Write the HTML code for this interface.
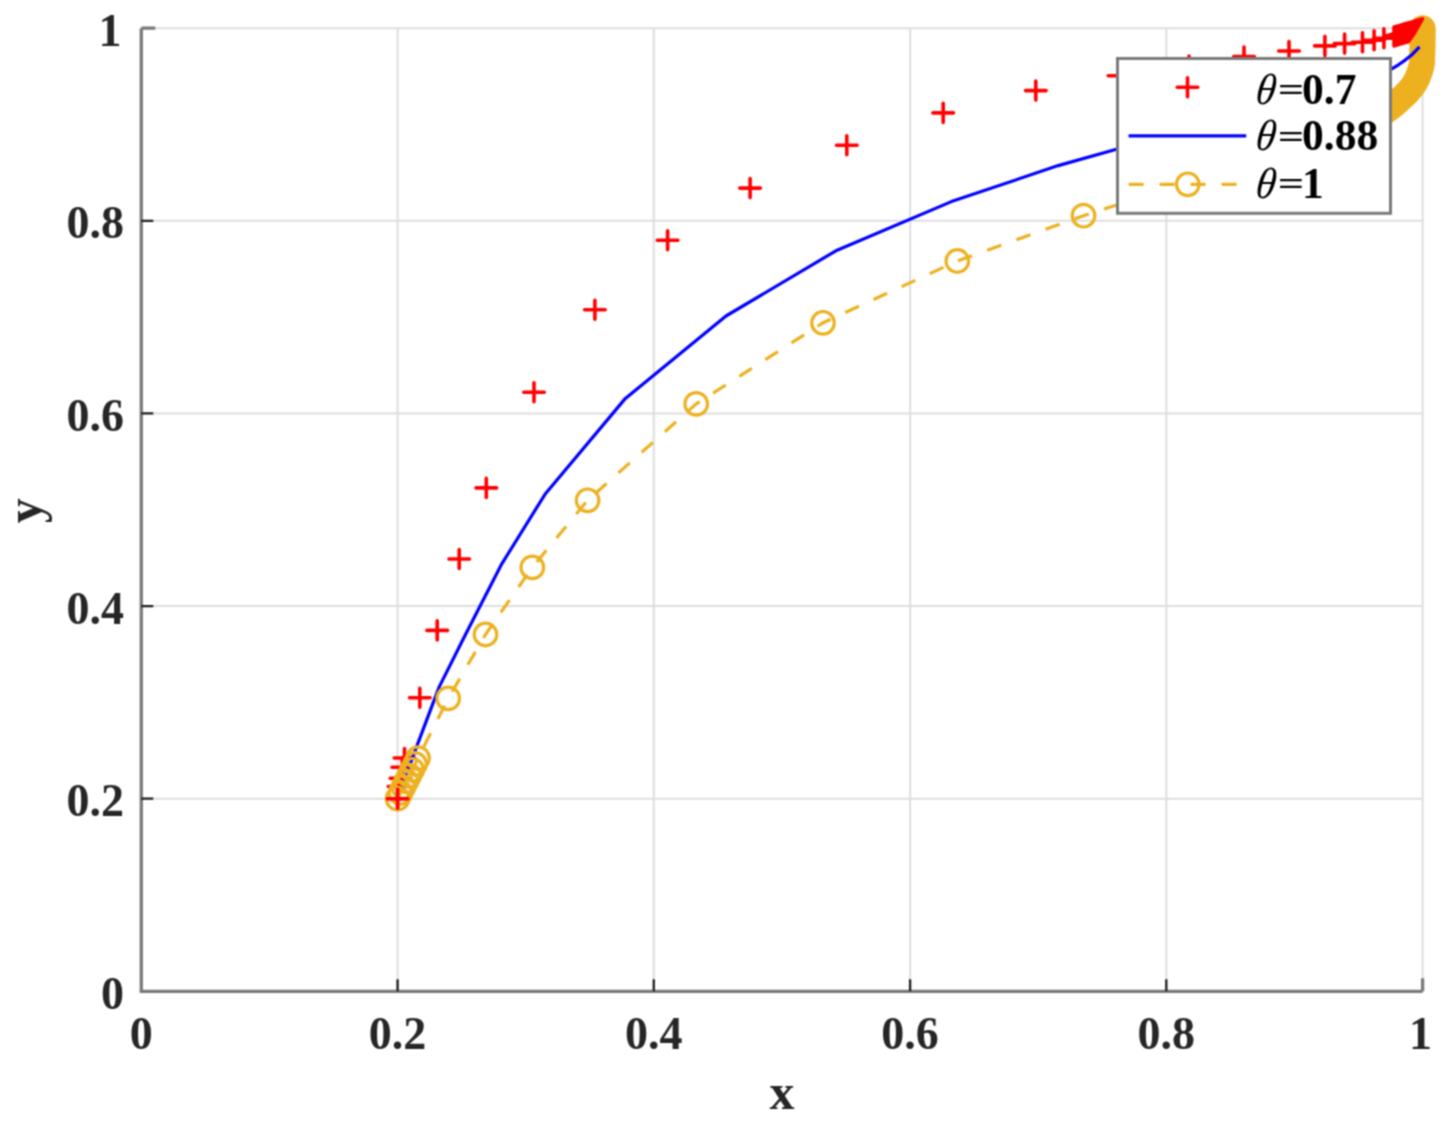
<!DOCTYPE html>
<html><head><meta charset="utf-8"><title>plot</title>
<style>html,body{margin:0;padding:0;background:#fff;overflow:hidden}svg{display:block}</style>
</head><body>
<svg width="1452" height="1127" viewBox="0 0 1452 1127">
<defs><filter id="soft" x="0" y="0" width="1452" height="1127" filterUnits="userSpaceOnUse" color-interpolation-filters="sRGB"><feConvolveMatrix order="3" kernelMatrix="1 2 1 2 4 2 1 2 1" divisor="16" edgeMode="duplicate"/></filter></defs>
<g filter="url(#soft)">
<rect width="1452" height="1127" fill="#fff"/>
<path d="M397.6 28.2V991.3M141.3 798.7H1422.6M653.8 28.2V991.3M141.3 606.1H1422.6M910.1 28.2V991.3M141.3 413.4H1422.6M1166.3 28.2V991.3M141.3 220.8H1422.6M1422.6 28.2V991.3M141.3 28.2H1422.6" stroke="#dedede" stroke-width="2" fill="none"/>
<path d="M387.3 798.7H407.9M397.6 789.2V808.2M388.3 786.5H408.9M398.6 777.0V796.0M390.2 778.3H410.8M400.5 768.8V787.8M392.0 767.3H412.6M402.3 757.8V776.8M394.2 758.0H414.8M404.5 748.5V767.5M409.5 697.8H430.1M419.8 688.3V707.3M426.9 630.4H447.5M437.2 620.9V639.9M448.9 559.0H469.5M459.2 549.5V568.5M476.0 487.9H496.6M486.3 478.4V497.4M523.7 392.2H544.3M534.0 382.7V401.7M584.6 309.7H605.2M594.9 300.2V319.2M657.3 240.2H677.9M667.6 230.7V249.7M739.8 188.1H760.4M750.1 178.6V197.6M836.5 145.2H857.1M846.8 135.7V154.7M932.9 112.9H953.5M943.2 103.4V122.4M1025.5 90.6H1046.1M1035.8 81.1V100.1M1108.2 75.8H1128.8M1118.5 66.3V85.3M1178.7 65.5H1199.3M1189.0 56.0V75.0M1233.7 56.5H1254.3M1244.0 47.0V66.0M1278.7 51.0H1299.3M1289.0 41.5V60.5M1314.6 45.9H1335.2M1324.9 36.4V55.4M1334.3 43.6H1354.9M1344.6 34.1V53.1M1352.2 42.3H1372.8M1362.5 32.8V51.8M1363.8 40.3H1384.4M1374.1 30.8V49.8M1373.6 38.2H1394.2M1383.9 28.7V47.7M1383.7 36.5H1404.3M1394.0 27.0V46.0" stroke="#ff0000" stroke-width="3.6" fill="none" stroke-linecap="round"/>
<polyline points="397.6,798.7 412.4,757.9 439.1,687.1 465.5,634.5 501.8,563.8 545.0,494.3 625.4,398.4 726.0,316.0 835.9,250.8 951.4,201.6 1058.2,165.6 1120.0,148.2 1200.0,126.0 1280.0,104.0 1350.0,85.0 1391.3,69.1" stroke="#0000ff" stroke-width="3.2" fill="none" stroke-linejoin="round"/>
<polyline points="397.6,798.7 400.5,792.9 403.4,787.1 406.3,781.3 409.3,775.6 412.2,769.8 415.1,764.0 418.0,758.2 448.2,698.4 485.5,634.5 532.3,567.4 587.6,500.3" stroke="#edb120" stroke-width="3.2" fill="none" stroke-dasharray="15 16" stroke-dashoffset="-27.24" stroke-linejoin="round"/>
<polyline points="587.6,500.3 696.2,403.9 823.0,322.8 957.3,261.0 1083.5,215.7 1200.0,178.0 1300.0,146.0 1360.0,124.0 1361.4,123.4 1363.2,122.7 1365.4,121.8 1367.8,120.8 1370.3,119.8 1372.7,118.6 1375.0,117.5 1376.9,116.5 1378.8,115.4 1380.7,114.2 1382.6,113.0 1384.4,111.8 1386.2,110.6 1388.0,109.3 1389.7,108.1 1391.6,106.7 1393.4,105.3 1395.1,103.8 1396.8,102.4 1398.4,101.0 1399.9,99.6 1401.4,98.2 1403.0,96.7 1404.6,95.2 1406.1,93.7 1407.5,92.3 1408.8,90.9 1410.0,89.5 1411.7,87.5 1413.1,85.6 1414.4,83.6 1415.6,81.6 1416.5,79.9 1417.4,78.0 1418.1,76.2 1418.8,74.3 1419.5,72.5 1420.2,70.4 1420.8,68.5 1421.4,66.3 1421.8,63.4 1422.0,61.5 1422.1,59.4 1422.2,57.1 1422.3,54.7 1422.4,52.2 1422.4,49.7 1422.5,47.3 1422.5,45.0 1422.5,42.7 1422.6,40.3 1422.6,37.8 1422.6,35.5 1422.6,33.2 1422.6,31.2 1422.6,29.5 1422.6,28.2" stroke="#edb120" stroke-width="3.2" fill="none" stroke-dasharray="15 16" stroke-dashoffset="-10.31" stroke-linejoin="round"/>
<g stroke="#edb120" stroke-width="3.2" fill="none"><circle cx="397.6" cy="798.7" r="11.3"/><circle cx="400.5" cy="792.9" r="11.3"/><circle cx="403.4" cy="787.1" r="11.3"/><circle cx="406.3" cy="781.3" r="11.3"/><circle cx="409.3" cy="775.6" r="11.3"/><circle cx="412.2" cy="769.8" r="11.3"/><circle cx="415.1" cy="764.0" r="11.3"/><circle cx="418.0" cy="758.2" r="11.3"/><circle cx="448.2" cy="698.4" r="11.3"/><circle cx="485.5" cy="634.5" r="11.3"/><circle cx="532.3" cy="567.4" r="11.3"/><circle cx="587.6" cy="500.3" r="11.3"/><circle cx="696.2" cy="403.9" r="11.3"/><circle cx="823.0" cy="322.8" r="11.3"/><circle cx="957.3" cy="261.0" r="11.3"/><circle cx="1083.5" cy="215.7" r="11.3"/><circle cx="1200.0" cy="178.0" r="11.3"/><circle cx="1300.0" cy="146.0" r="11.3"/><circle cx="1360.0" cy="124.0" r="11.3"/><circle cx="1361.4" cy="123.4" r="11.3"/><circle cx="1363.2" cy="122.7" r="11.3"/><circle cx="1365.4" cy="121.8" r="11.3"/><circle cx="1367.8" cy="120.8" r="11.3"/><circle cx="1370.3" cy="119.8" r="11.3"/><circle cx="1372.7" cy="118.6" r="11.3"/><circle cx="1375.0" cy="117.5" r="11.3"/><circle cx="1376.9" cy="116.5" r="11.3"/><circle cx="1378.8" cy="115.4" r="11.3"/><circle cx="1380.7" cy="114.2" r="11.3"/><circle cx="1382.6" cy="113.0" r="11.3"/><circle cx="1384.4" cy="111.8" r="11.3"/><circle cx="1386.2" cy="110.6" r="11.3"/><circle cx="1388.0" cy="109.3" r="11.3"/><circle cx="1389.7" cy="108.1" r="11.3"/><circle cx="1391.6" cy="106.7" r="11.3"/><circle cx="1393.4" cy="105.3" r="11.3"/><circle cx="1395.1" cy="103.8" r="11.3"/><circle cx="1396.8" cy="102.4" r="11.3"/><circle cx="1398.4" cy="101.0" r="11.3"/><circle cx="1399.9" cy="99.6" r="11.3"/><circle cx="1401.4" cy="98.2" r="11.3"/><circle cx="1403.0" cy="96.7" r="11.3"/><circle cx="1404.6" cy="95.2" r="11.3"/><circle cx="1406.1" cy="93.7" r="11.3"/><circle cx="1407.5" cy="92.3" r="11.3"/><circle cx="1408.8" cy="90.9" r="11.3"/><circle cx="1410.0" cy="89.5" r="11.3"/><circle cx="1411.7" cy="87.5" r="11.3"/><circle cx="1413.1" cy="85.6" r="11.3"/><circle cx="1414.4" cy="83.6" r="11.3"/><circle cx="1415.6" cy="81.6" r="11.3"/><circle cx="1416.5" cy="79.9" r="11.3"/><circle cx="1417.4" cy="78.0" r="11.3"/><circle cx="1418.1" cy="76.2" r="11.3"/><circle cx="1418.8" cy="74.3" r="11.3"/><circle cx="1419.5" cy="72.5" r="11.3"/><circle cx="1420.2" cy="70.4" r="11.3"/><circle cx="1420.8" cy="68.5" r="11.3"/><circle cx="1421.4" cy="66.3" r="11.3"/><circle cx="1421.8" cy="63.4" r="11.3"/><circle cx="1422.0" cy="61.5" r="11.3"/><circle cx="1422.1" cy="59.4" r="11.3"/><circle cx="1422.2" cy="57.1" r="11.3"/><circle cx="1422.3" cy="54.7" r="11.3"/><circle cx="1422.4" cy="52.2" r="11.3"/><circle cx="1422.4" cy="49.7" r="11.3"/><circle cx="1422.5" cy="47.3" r="11.3"/><circle cx="1422.5" cy="45.0" r="11.3"/><circle cx="1422.5" cy="42.7" r="11.3"/><circle cx="1422.6" cy="40.3" r="11.3"/><circle cx="1422.6" cy="37.8" r="11.3"/><circle cx="1422.6" cy="35.5" r="11.3"/><circle cx="1422.6" cy="33.2" r="11.3"/><circle cx="1422.6" cy="31.2" r="11.3"/><circle cx="1422.6" cy="29.5" r="11.3"/><circle cx="1422.6" cy="28.2" r="11.3"/></g>
<path d="M387.3 798.7H407.9M397.6 789.2V808.2" stroke="#ff0000" stroke-width="3.6" fill="none" stroke-linecap="round"/>
<clipPath id="rc"><polygon points="1370,0 1426,0 1425,18 1416,34 1409,44 1396,52 1370,60"/></clipPath>
<g clip-path="url(#rc)"><path d="M1385.2 36.1H1405.8M1395.5 26.6V45.6M1386.7 35.6H1407.3M1397.0 26.1V45.1M1388.2 35.2H1408.8M1398.5 25.7V44.7M1389.7 34.8H1410.3M1400.0 25.3V44.3M1391.2 34.3H1411.8M1401.5 24.8V43.8M1392.7 33.9H1413.3M1403.0 24.4V43.4M1394.2 33.4H1414.8M1404.5 23.9V42.9M1395.7 33.0H1416.3M1406.0 23.5V42.5M1397.2 32.6H1417.8M1407.5 23.1V42.1M1398.8 32.1H1419.4M1409.1 22.6V41.6M1400.3 31.7H1420.9M1410.6 22.2V41.2M1401.8 31.3H1422.4M1412.1 21.8V40.8M1403.3 30.8H1423.9M1413.6 21.3V40.3M1404.8 30.4H1425.4M1415.1 20.9V39.9M1406.3 29.9H1426.9M1416.6 20.4V39.4M1407.8 29.5H1428.4M1418.1 20.0V39.0M1409.3 29.1H1429.9M1419.6 19.6V38.6M1410.8 28.6H1431.4M1421.1 19.1V38.1M1412.3 28.2H1432.9M1422.6 18.7V37.7" stroke="#ff0000" stroke-width="3.6" fill="none" stroke-linecap="round"/></g>
<polyline points="1385.0,73.3 1391.3,69.1 1398.5,64.8 1405.2,60.1 1412.5,54.2 1419.5,46.8" stroke="#0000ff" stroke-width="3.2" fill="none" stroke-linejoin="round"/>
<path d="M141.3 28.2V991.3H1422.6" stroke="#7a7a7a" stroke-width="3.3" fill="none"/>
<path d="M397.6 991.3V979.3M141.3 798.7H153.3M653.8 991.3V979.3M141.3 606.1H153.3M910.1 991.3V979.3M141.3 413.4H153.3M1166.3 991.3V979.3M141.3 220.8H153.3" stroke="#1e1e1e" stroke-width="2.3" fill="none"/>
<path d="M1422.6 991.3V978.3M141.3 28.2H155.3" stroke="#7a7a7a" stroke-width="3.3" fill="none"/>
<text x="141.3" y="1049" font-family="Liberation Serif, Times New Roman, serif" font-weight="bold" font-size="46" fill="#262626" text-anchor="middle">0</text>
<text x="397.6" y="1049" font-family="Liberation Serif, Times New Roman, serif" font-weight="bold" font-size="46" fill="#262626" text-anchor="middle">0.2</text>
<text x="653.8" y="1049" font-family="Liberation Serif, Times New Roman, serif" font-weight="bold" font-size="46" fill="#262626" text-anchor="middle">0.4</text>
<text x="910.1" y="1049" font-family="Liberation Serif, Times New Roman, serif" font-weight="bold" font-size="46" fill="#262626" text-anchor="middle">0.6</text>
<text x="1166.3" y="1049" font-family="Liberation Serif, Times New Roman, serif" font-weight="bold" font-size="46" fill="#262626" text-anchor="middle">0.8</text>
<text x="1420.6" y="1049" font-family="Liberation Serif, Times New Roman, serif" font-weight="bold" font-size="46" fill="#262626" text-anchor="middle">1</text>
<text x="124.0" y="1008.8" font-family="Liberation Serif, Times New Roman, serif" font-weight="bold" font-size="46" fill="#262626" text-anchor="end">0</text>
<text x="124.0" y="816.2" font-family="Liberation Serif, Times New Roman, serif" font-weight="bold" font-size="46" fill="#262626" text-anchor="end">0.2</text>
<text x="124.0" y="623.6" font-family="Liberation Serif, Times New Roman, serif" font-weight="bold" font-size="46" fill="#262626" text-anchor="end">0.4</text>
<text x="124.0" y="430.9" font-family="Liberation Serif, Times New Roman, serif" font-weight="bold" font-size="46" fill="#262626" text-anchor="end">0.6</text>
<text x="124.0" y="238.3" font-family="Liberation Serif, Times New Roman, serif" font-weight="bold" font-size="46" fill="#262626" text-anchor="end">0.8</text>
<text x="121.5" y="45.7" font-family="Liberation Serif, Times New Roman, serif" font-weight="bold" font-size="46" fill="#262626" text-anchor="end">1</text>
<text x="782" y="1109.3" font-family="Liberation Serif, Times New Roman, serif" font-weight="bold" font-size="50" fill="#262626" text-anchor="middle">x</text>
<text transform="translate(40.7,510.8) rotate(-90)" x="0" y="0" font-family="Liberation Serif, Times New Roman, serif" font-weight="bold" font-size="50" fill="#262626" text-anchor="middle">y</text>
<rect x="1117.5" y="58.5" width="273.0" height="154.8" fill="#fff" stroke="#7a7a7a" stroke-width="3"/>
<path d="M1177.2 87.3H1197.8M1187.5 77.8V96.8" stroke="#ff0000" stroke-width="3.6" stroke-linecap="round"/>
<line x1="1128.6" y1="135.8" x2="1246.2" y2="135.8" stroke="#0000ff" stroke-width="3.2"/>
<line x1="1128.6" y1="184.3" x2="1246.2" y2="184.3" stroke="#edb120" stroke-width="3.2" stroke-dasharray="15 16"/>
<circle cx="1187.8" cy="184.3" r="11.3" stroke="#edb120" stroke-width="3.2" fill="none"/>
<text transform="translate(1254.6,103.6) skewX(-7.7) scale(0.93,1)" x="0" y="0" font-family="Liberation Serif, Times New Roman, serif" fill="#000" font-size="43.5" font-style="italic">θ</text>
<text transform="translate(1277.7,100.9) scale(1.07,0.77)" x="0" y="0" font-family="Liberation Serif, Times New Roman, serif" fill="#000" font-size="43.5" font-weight="bold">=</text>
<text x="1302" y="103.6" font-family="Liberation Serif, Times New Roman, serif" fill="#000" font-size="43.5" font-weight="bold">0.7</text>
<text transform="translate(1254.6,150.3) skewX(-7.7) scale(0.93,1)" x="0" y="0" font-family="Liberation Serif, Times New Roman, serif" fill="#000" font-size="43.5" font-style="italic">θ</text>
<text transform="translate(1277.7,147.6) scale(1.07,0.77)" x="0" y="0" font-family="Liberation Serif, Times New Roman, serif" fill="#000" font-size="43.5" font-weight="bold">=</text>
<text x="1302" y="150.3" font-family="Liberation Serif, Times New Roman, serif" fill="#000" font-size="43.5" font-weight="bold">0.88</text>
<text transform="translate(1254.6,197.6) skewX(-7.7) scale(0.93,1)" x="0" y="0" font-family="Liberation Serif, Times New Roman, serif" fill="#000" font-size="43.5" font-style="italic">θ</text>
<text transform="translate(1277.7,194.9) scale(1.07,0.77)" x="0" y="0" font-family="Liberation Serif, Times New Roman, serif" fill="#000" font-size="43.5" font-weight="bold">=</text>
<text x="1302" y="197.6" font-family="Liberation Serif, Times New Roman, serif" fill="#000" font-size="43.5" font-weight="bold">1</text>
</g></svg>
</body></html>
